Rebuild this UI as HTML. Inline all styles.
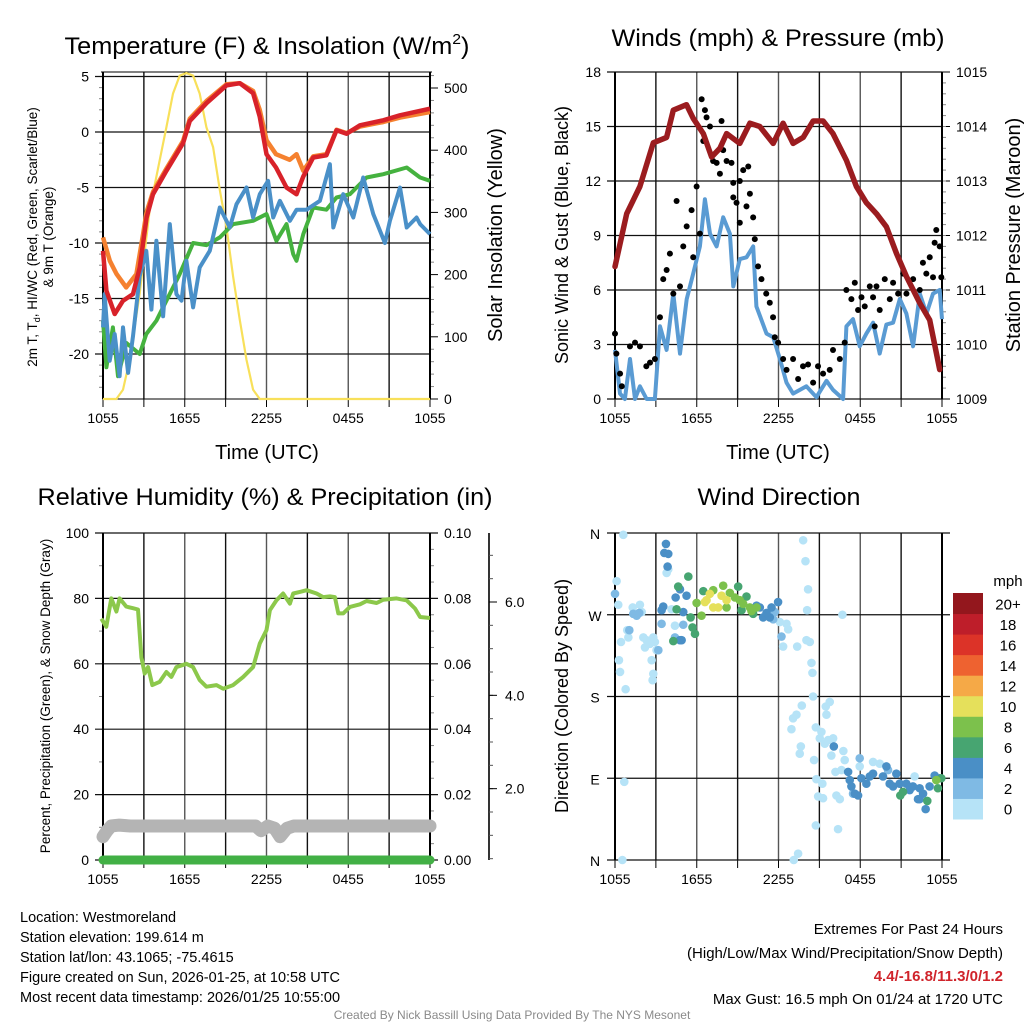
<!DOCTYPE html>
<html><head><meta charset="utf-8"><style>
html,body{margin:0;padding:0;background:#fff}
svg{display:block;font-family:"Liberation Sans",sans-serif}
</style></head><body>
<svg id="fig" width="1024" height="1024" viewBox="0 0 1024 1024" xmlns="http://www.w3.org/2000/svg">
<rect x="0" y="0" width="1024" height="1024" fill="#fff"/>
<g id="layer"></g>
<text x="267" y="54" font-size="24" text-anchor="middle" textLength="405" lengthAdjust="spacingAndGlyphs">Temperature (F) &amp; Insolation (W/m<tspan font-size="15" dy="-10">2</tspan><tspan dy="10">)</tspan></text>
<text x="778" y="46" font-size="24" text-anchor="middle" textLength="333" lengthAdjust="spacingAndGlyphs">Winds (mph) &amp; Pressure (mb)</text>
<text x="265" y="505" font-size="24" text-anchor="middle" textLength="455" lengthAdjust="spacingAndGlyphs">Relative Humidity (%) &amp; Precipitation (in)</text>
<text x="779" y="505" font-size="24" text-anchor="middle" textLength="163" lengthAdjust="spacingAndGlyphs">Wind Direction</text>
<text x="267" y="459" font-size="20" text-anchor="middle">Time (UTC)</text>
<text x="778" y="459" font-size="20" text-anchor="middle">Time (UTC)</text>
<text transform="translate(37,237) rotate(-90)" font-size="13.5" text-anchor="middle">2m T, T<tspan font-size="9" dy="3">d</tspan><tspan dy="-3">, HI/WC (Red, Green, Scarlet/Blue)</tspan></text>
<text transform="translate(53,237) rotate(-90)" font-size="13.5" text-anchor="middle">&amp; 9m T (Orange)</text>
<text transform="translate(502,235) rotate(-90)" font-size="20" text-anchor="middle">Solar Insolation (Yellow)</text>
<text transform="translate(568,235) rotate(-90)" font-size="18" text-anchor="middle">Sonic Wind &amp; Gust (Blue, Black)</text>
<text transform="translate(1020,235) rotate(-90)" font-size="20" text-anchor="middle">Station Pressure (Maroon)</text>
<text transform="translate(50,696) rotate(-90)" font-size="13.5" text-anchor="middle">Percent, Precipitation (Green), &amp; Snow Depth (Gray)</text>
<text transform="translate(568,696) rotate(-90)" font-size="18" text-anchor="middle">Direction (Colored By Speed)</text>
<g font-size="14.5">
<text x="20" y="922">Location: Westmoreland</text>
<text x="20" y="942">Station elevation: 199.614 m</text>
<text x="20" y="962">Station lat/lon: 43.1065; -75.4615</text>
<text x="20" y="982">Figure created on Sun, 2026-01-25, at 10:58 UTC</text>
<text x="20" y="1002">Most recent data timestamp: 2026/01/25 10:55:00</text>
</g>
<g font-size="15" text-anchor="end">
<text x="1003" y="934">Extremes For Past 24 Hours</text>
<text x="1003" y="958">(High/Low/Max Wind/Precipitation/Snow Depth)</text>
<text x="1003" y="981" fill="#d0242b" font-weight="bold">4.4/-16.8/11.3/0/1.2</text>
<text x="1003" y="1004">Max Gust: 16.5 mph On 01/24 at 1720 UTC</text>
</g>
<text x="512" y="1019" font-size="12" fill="#8a8a8a" text-anchor="middle">Created By Nick Bassill Using Data Provided By The NYS Mesonet</text>
</svg>
<script>
// ---------- data ----------
var timeLabels = ["1055","1655","2255","0455","1055"];
var tempTicks = [5,0,-5,-10,-15,-20];
var insolTicks = [0,100,200,300,400,500];
var windTicks = [0,3,6,9,12,15,18];
var presTicks = [1009,1010,1011,1012,1013,1014,1015];
var rhTicks = [0,20,40,60,80,100];
var precipTicks = ["0.00","0.02","0.04","0.06","0.08","0.10"];
var snowTicks = [2,4,6];
var dirLabels = ["N","W","S","E","N"];
var dirTickVals = [360,270,180,90,0];

var redT = [0,0.25,0.86,1.47,2.2,2.7,3.2,3.67,4.65,5.88,6.37,7.6,9.06,10.04,11.02,11.5,12.0,12.7,13.47,14.2,14.7,15.43,16.4,17.14,17.88,18.86,20.57,21.8,24];
var redV = [-10.7,-14.3,-16.4,-15.2,-14.6,-12.2,-7.7,-5.6,-3.5,-1,1,2.6,4.2,4.4,3.5,1.4,-2,-3.2,-5,-5.6,-4,-2.3,-2.1,0.15,-0.15,0.6,1.05,1.5,2.1];
var orangeT = [0,0.5,1.0,1.7,2.45,2.94,3.2,3.67,4.65,5.88,6.37,7.6,9.06,10.04,11.02,11.5,12.0,12.7,13.7,14.2,14.7,15.43,16.4,17.14,17.88,18.86,20.57,21.8,24];
var orangeV = [-9.5,-11.6,-12.8,-14,-12.8,-9.2,-7.2,-5.4,-3.3,-0.8,1.2,2.8,4.3,4.4,3.7,2,-0.75,-2,-2.5,-2,-3.5,-2.2,-2,0.2,-0.1,0.5,0.9,1.3,1.8];
var greenT = [0,0.25,0.73,1.1,1.71,2.69,3.18,3.92,4.65,5.63,6.61,7.59,8.57,9.55,11.02,12.0,12.73,13.47,13.96,14.2,14.7,15.43,16.4,17.14,18.12,19.35,20.57,22.29,23.27,24];
var greenV = [-17,-21.2,-17.6,-22,-19,-20,-18.2,-17,-15.2,-12.8,-10,-10.2,-9.5,-8.3,-8,-7.4,-9.8,-8.3,-11,-11.6,-9.2,-6.8,-7,-5.9,-5.6,-4.1,-3.8,-3.2,-4.1,-4.4];
var blueT = [0,0.12,0.49,0.86,1.22,1.47,1.84,2.2,2.69,3.18,3.55,3.92,4.41,4.9,5.39,5.76,6.12,6.61,7.1,7.84,8.57,9.31,9.8,10.53,11.02,11.51,12.12,12.49,12.98,13.72,14.21,14.94,15.92,16.65,16.9,17.63,18.37,19.1,19.84,20.69,21.06,21.8,22.29,23.02,23.27,24];
var blueV = [-17.6,-14.6,-20.6,-18.2,-22,-17.6,-21.7,-18.4,-13,-10.7,-16,-9.8,-16.6,-8.3,-14.6,-15.2,-11.6,-15.8,-12.2,-10.7,-6.8,-8.6,-6.5,-5,-7.7,-5.6,-4.4,-7.7,-6.2,-8,-7,-7,-6.2,-2.9,-8.6,-5.6,-7.7,-4.1,-7.4,-10,-8,-5,-8.6,-7.7,-8.3,-9.2];
var solarT = [0,0.98,1.47,1.96,2.69,3.43,4.16,4.65,5.14,5.63,6.12,6.61,7.1,7.59,8.08,8.57,9.06,9.55,10.04,10.53,11.02,11.51,24];
var solarV = [0,0,15,63,170,304,384,437,491,520,524,520,491,437,405,336,277,197,127,63,15,0,0];

var presT = [0,0.86,1.83,2.81,3.79,4.28,5.25,5.74,6.48,7.09,7.7,8.19,9.16,9.9,10.63,11.61,12.34,13.07,13.81,14.54,15.27,16.0,16.98,17.72,18.45,19.19,19.92,20.66,21.39,22.37,23.1,23.83];
var presV = [1011.43,1012.4,1012.9,1013.7,1013.8,1014.3,1014.4,1014.15,1013.87,1013.44,1013.6,1013.87,1013.69,1014.06,1014.0,1013.69,1014.06,1013.69,1013.8,1014.1,1014.1,1013.87,1013.38,1012.9,1012.6,1012.4,1012.16,1011.67,1011.25,1010.76,1010.45,1009.54];
var windT = [0,0.37,0.73,1.1,1.47,1.83,2.32,2.93,3.3,3.79,4.28,4.77,5.26,5.74,6.23,6.6,6.97,7.46,7.94,8.43,8.68,9.16,9.65,10.14,10.38,11.12,11.61,12.1,12.59,13.07,14.05,14.78,15.52,16.0,16.74,16.98,17.47,17.96,18.45,18.94,19.43,19.92,20.41,20.9,21.39,21.88,22.37,22.86,23.34,23.83,24];
var windV = [2.7,0.3,0,2.2,0,0.7,0,0,4,2.7,5.8,2.5,5.5,6.9,8.4,11,9.1,8.4,10,9.1,6.2,7.7,7.8,8.4,5.1,3.6,3.4,2.2,0.9,0.3,0.7,0.1,1,0.5,0,4,4.4,2.9,3.6,4.2,2.5,4.1,4.2,5.5,4.7,2.9,5.8,4.7,5.8,6,4.4];
var gustT = [0,0.1,0.37,0.5,1.1,1.47,1.83,2.3,2.57,2.93,3.3,3.54,3.79,4.03,4.28,4.52,4.77,5.01,5.26,5.62,5.74,5.99,6.23,6.36,6.48,6.6,6.72,6.97,7.2,7.46,7.7,7.82,7.94,8.19,8.55,8.68,8.68,8.92,9.16,9.16,9.41,9.65,9.78,9.9,10.14,10.26,10.5,10.75,11.1,11.36,11.6,11.73,11.97,12.34,12.59,13.07,13.44,13.8,14.17,14.54,14.9,15.27,15.76,16,16.5,16.86,16.98,17.35,17.6,17.84,18.09,18.33,18.7,18.94,19.06,19.19,19.43,19.8,20.17,20.41,20.78,21.15,21.39,21.88,22.37,22.6,22.85,23.1,23.34,23.46,23.58,23.83,23.95];
var gustV = [3.6,2.5,1.4,0.7,2.9,3.1,2.9,1.8,2.0,2.2,4.5,6.6,7.1,8.0,5.8,10.9,6.2,8.4,9.5,10.4,7.8,11.7,9.1,16.5,14.2,15.9,15.5,15.0,13.1,13.0,12.4,15.3,13.7,13.1,13.0,11.9,11.1,10.8,9.7,12.0,12.6,10.6,12.8,11.3,10.0,8.8,7.3,6.6,5.8,5.3,4.5,3.4,3.1,2.2,1.6,2.2,1.1,1.8,1.9,0.9,1.8,1.4,1.6,2.7,2.2,3.1,6.0,5.5,6.4,4.9,5.6,5.1,6.2,5.6,4.0,6.2,4.9,6.6,5.5,6.4,5.8,6.9,5.8,6.6,6.0,7.5,6.9,7.8,6.7,8.6,9.3,8.4,6.7];

var rhT = [-0.12,0.24,0.61,0.98,1.22,1.71,2.2,2.57,2.82,3.06,3.31,3.62,4.16,4.65,5.02,5.39,6.12,6.61,7.1,7.59,8.33,8.82,9.55,10.29,11.02,11.51,12.0,12.25,12.73,13.22,13.72,13.96,14.45,14.94,15.68,16.16,16.65,17.02,17.27,17.63,18.12,18.86,19.35,20.08,20.57,21.55,22.29,22.9,23.27,24];
var rhV = [73.8,71.3,80,76,80,77.5,77,76.6,62,57,59,53.5,54.5,57.5,56,59,60,59,55,53,53.5,52.4,53.5,56,59,66.2,70.3,76.4,79.4,81.5,78.4,81.5,82,82.5,81.5,80.4,80.6,80.4,75.4,75.4,77.4,78.2,79.2,78.6,79.6,80,79.4,76.9,74.3,74];
var snowT = [0,0.3,0.6,1.2,2,4,6,8,10,11.2,11.6,12.1,12.6,13.0,13.5,14.0,15,18,21,24];
var snowV = [0.97,1.1,1.2,1.22,1.2,1.2,1.2,1.2,1.2,1.2,1.1,1.2,1.15,0.97,1.15,1.2,1.2,1.2,1.2,1.2];
var precipT = [0,24];
var precipV = [0,0];

var speedBins = ["0","2","4","6","8","10","12","14","16","18","20+"];
var binColors = ["#b6e3f7","#7fbae4","#4a8fc6","#47a571","#7cc14c","#e5e05b","#f5a947","#ee6230","#dc3328","#be1e2a","#93171d"];
var dirT = [
0.61,0.12,0.24,0.44,0.29,0.37,0.78,0.68,0.54,1.30,0.98,0.90,1.83,1.96,2.08,2.32,2.57,2.20,2.81,2.93,2.69,2.81,2.76,3.05,3.79,3.91,4.15,4.40,
13.81,13.98,14.17,14.10,12.10,12.59,12.71,12.34,13.37,14.05,14.30,14.42,14.49,14.54,13.71,13.32,13.07,12.95,13.64,13.56,
14.74,15.15,15.03,15.47,15.76,15.52,15.40,15.64,16.01,15.88,16.76,16.86,14.61,16.18,16.62,14.78,15.22,16.25,16.50,14.91,15.27,14.74,16.37,13.44,13.12,16.69,17.96,18.94,19.43,21.99,
0,1.05,1.34,1.59,1.78,3.18,3.42,4.40,5.01,11.61,11.73,12.22,17.96,17.47,20.04,
3.74,3.62,3.91,3.86,3.54,4.45,4.77,5.25,5.01,4.77,4.89,3.42,10.63,10.87,11.36,11.49,11.97,11.12,10.39,16.06,17.11,17.23,17.35,17.60,17.84,18.08,18.45,18.70,18.94,19.67,19.92,20.16,20.41,20.65,20.89,21.38,21.63,21.87,22.36,22.61,23.09,23.46,22.80,22.36,23.83,22.24,
5.38,4.64,4.52,4.28,5.55,5.69,5.87,6.48,9.04,9.29,9.65,10.14,20.94,21.14,22.92,23.70,23.95,
5.99,6.35,7.21,7.94,8.43,8.80,9.41,9.90,10.02,8.19,9.16,10.39,23.58,
6.72,6.96,7.21,7.58,7.82,8.19,6.60];
var dirV = [
358,307,281,240,220,207,188,86,0,278,245,253,281,273,245,242,238,234,245,240,220,205,198,231,316,320,276,258,
352,329,298,275,262,260,254,235,235,242,240,217,206,180,170,160,156,144,125,117,
146,141,134,169,174,160,128,132,134,115,120,110,110,97,99,89,84,71,67,70,68,38,34,7,0,270,103,108,106,92,
293,253,271,269,272,231,260,245,259,265,273,246,112,73,99,
348,338,337,323,279,289,298,291,273,242,242,275,278,267,267,278,284,272,280,125,97,88,81,73,71,90,84,92,95,92,103,84,81,95,84,84,77,81,79,73,81,93,56,67,90,67,
312,301,276,241,267,256,249,296,301,275,290,271,71,75,65,79,90,
283,269,297,302,294,289,282,278,274,278,286,278,88,
286,293,278,278,291,286,284];
var dirBin = [];
(function(){var counts=[78,15,46,17,13,7];for(var b=0;b<counts.length;b++){for(var k=0;k<counts[b];k++){dirBin.push(b);}}})();

// ---------- helpers ----------
var NS = "http://www.w3.org/2000/svg";
var layer = document.getElementById("layer");
function mk(tag, attrs, name, parent) {
  var el = document.createElementNS(NS, tag);
  for (var k in attrs) el.setAttribute(k, attrs[k]);
  
  
  (parent || layer).appendChild(el);
  return el;
}
function txt(x, y, s, size, anchor, name) {
  var t = mk("text", {x: x, y: y, "font-size": size, "text-anchor": anchor || "middle"}, name);
  t.textContent = s;
  return t;
}
function lin(sx, sy) { return function(v){ return sy[0] + (v - sx[0]) * (sy[1] - sy[0]) / (sx[1] - sx[0]); }; }
function pathD(ts, vs, fx, fy) {
  var d = "";
  for (var i = 0; i < ts.length; i++) d += (i ? "L" : "M") + fx(ts[i]).toFixed(1) + "," + fy(vs[i]).toFixed(1);
  return d;
}
function timeAxis(x0, x1, yb, yt, name) {
  var fx = lin([0, 24], [x0, x1]);
  for (var h = 0; h <= 24; h += 3) {
    var x = fx(h);
    mk("line", {x1: x, y1: yt, x2: x, y2: yb, stroke: (h % 6 === 0) ? "#555" : "#111", "stroke-width": 1.4}, name + "-vgrid");
    mk("line", {x1: x, y1: yb, x2: x, y2: yb + 8, stroke: "#000", "stroke-width": 1}, name + "-xtick");
  }
  for (var i = 0; i < timeLabels.length; i++) txt(fx(i * 6), yb + 24, timeLabels[i], 14, "middle", name + "-xtick-label");
  return fx;
}
function frame(x0, x1, yb, yt, name) {
  mk("line", {x1: x0, y1: yt, x2: x0, y2: yb, stroke: "#000", "stroke-width": 2}, name + "-left-border");
  mk("line", {x1: x1, y1: yt, x2: x1, y2: yb, stroke: "#000", "stroke-width": 2}, name + "-right-border");
}

// ---------- Panel 1: temperature ----------
(function(){
  var x0 = 103, x1 = 430, yb = 399, yt = 72;
  var fy = lin([0, 5], [132, 76.5]);
  var fr = lin([0, 500], [399, 88]);
  var fx = timeAxis(x0, x1, yb, yt, "temp");
  mk("line", {x1: x0 - 2, y1: 72, x2: x1 + 2, y2: 72, stroke: "#000", "stroke-width": 1}, "temp-top-border");
  for (var i = 0; i < tempTicks.length; i++) {
    var y = fy(tempTicks[i]);
    mk("line", {x1: x0 - 8, y1: y, x2: x1, y2: y, stroke: "#111", "stroke-width": 1.2}, "temp-hgrid");
    txt(x0 - 14, y + 5, String(tempTicks[i]), 14, "end", "temp-ytick-label");
  }
  for (var v = -23; v <= 5; v++) { if (v % 5) mk("line", {x1: x0 - 4, y1: fy(v), x2: x0, y2: fy(v), stroke: "#888"}, "temp-minor-tick"); }
  for (var j = 0; j < insolTicks.length; j++) {
    var yy = fr(insolTicks[j]);
    mk("line", {x1: x1, y1: yy, x2: x1 + 8, y2: yy, stroke: "#000"}, "insol-tick");
    txt(x1 + 14, yy + 5, String(insolTicks[j]), 14, "start", "insol-tick-label");
  }
  for (var w = 20; w <= 520; w += 20) { if (w % 100) mk("line", {x1: x1, y1: fr(w), x2: x1 + 4, y2: fr(w), stroke: "#888"}, "insol-minor-tick"); }
  frame(x0, x1, yb, yt, "temp");
  mk("line", {x1: x0, y1: yb, x2: x1, y2: yb, stroke: "#000", "stroke-width": 1}, "temp-bottom-border");
  mk("path", {d: pathD(solarT, solarV, fx, fr), fill: "none", stroke: "#f8e05a", "stroke-width": 2.2}, "solar-insolation-line");
  mk("path", {d: pathD(greenT, greenV, fx, fy), fill: "none", stroke: "#45b23f", "stroke-width": 4, "stroke-linejoin": "round"}, "dewpoint-line");
  mk("path", {d: pathD(blueT, blueV, fx, fy), fill: "none", stroke: "#4a90c8", "stroke-width": 4, "stroke-linejoin": "round"}, "windchill-line");
  mk("path", {d: pathD(orangeT, orangeV, fx, fy), fill: "none", stroke: "#f5812f", "stroke-width": 4.5, "stroke-linejoin": "round"}, "temp-9m-line");
  mk("path", {d: pathD(redT, redV, fx, fy), fill: "none", stroke: "#d8222a", "stroke-width": 4.5, "stroke-linejoin": "round"}, "temp-2m-line");
})();

// ---------- Panel 2: winds ----------
(function(){
  var x0 = 615, x1 = 942, yb = 399, yt = 72;
  var fy = lin([0, 18], [399, 72]);
  var fp = lin([1009, 1015], [399, 72]);
  var fx = timeAxis(x0, x1, yb, yt, "wind");
  for (var i = 0; i < windTicks.length; i++) {
    var y = fy(windTicks[i]);
    mk("line", {x1: x0 - 8, y1: y, x2: x1, y2: y, stroke: "#111", "stroke-width": 1.2}, "wind-hgrid");
    txt(x0 - 14, y + 5, String(windTicks[i]), 14, "end", "wind-ytick-label");
  }
  for (var j = 0; j < presTicks.length; j++) {
    var yy = fp(presTicks[j]);
    mk("line", {x1: x1, y1: yy, x2: x1 + 8, y2: yy, stroke: "#000"}, "pressure-tick");
    txt(x1 + 14, yy + 5, String(presTicks[j]), 14, "start", "pressure-tick-label");
  }
  for (var p = 1009.2; p < 1015; p += 0.2) mk("line", {x1: x1, y1: fp(p), x2: x1 + 4, y2: fp(p), stroke: "#888"}, "pressure-minor-tick");
  frame(x0, x1, yb, yt, "wind");
  mk("path", {d: pathD(windT, windV, fx, fy), fill: "none", stroke: "#5a9bd3", "stroke-width": 4, "stroke-linejoin": "round"}, "sonic-wind-line");
  var g = mk("g", {fill: "#000"}, "gust-points");
  for (var k = 0; k < gustT.length; k++) {
    var c = document.createElementNS(NS, "circle");
    c.setAttribute("cx", fx(gustT[k])); c.setAttribute("cy", fy(gustV[k])); c.setAttribute("r", 3);
    
    
    g.appendChild(c);
  }
  mk("path", {d: pathD(presT, presV, fx, fp), fill: "none", stroke: "#9b1c1f", "stroke-width": 5.5, "stroke-linejoin": "round", "stroke-linecap": "round"}, "pressure-line");
})();

// ---------- Panel 3: humidity ----------
(function(){
  var x0 = 103, x1 = 430, yb = 860, yt = 533;
  var fy = lin([0, 100], [860, 533]);
  var fs = lin([0, 6], [882, 602]);
  var fx = timeAxis(x0, x1, yb, yt, "rh");
  for (var i = 0; i < rhTicks.length; i++) {
    var y = fy(rhTicks[i]);
    mk("line", {x1: x0 - 8, y1: y, x2: x1 + 8, y2: y, stroke: "#111", "stroke-width": 1.2}, "rh-hgrid");
    txt(x0 - 14, y + 5, String(rhTicks[i]), 14, "end", "rh-ytick-label");
    txt(x1 + 14, y + 5, precipTicks[i], 14, "start", "precip-tick-label");
  }
  for (var v = 10; v < 100; v += 20) { mk("line", {x1: x0 - 4, y1: fy(v), x2: x0, y2: fy(v), stroke: "#888"}, "rh-minor-tick"); }
  for (var v2 = 5; v2 < 100; v2 += 5) { if (v2 % 20) mk("line", {x1: x1, y1: fy(v2), x2: x1 + 4, y2: fy(v2), stroke: "#888"}, "precip-minor-tick"); }
  mk("line", {x1: 489, y1: 533, x2: 489, y2: 860, stroke: "#000", "stroke-width": 1.6}, "snow-axis-line");
  for (var s = 0.5; fs(s) > 535; s += 0.5) { if (fs(s) < 860) mk("line", {x1: 489, y1: fs(s), x2: 493, y2: fs(s), stroke: "#555"}, "snow-minor-tick"); }
  for (var j = 0; j < snowTicks.length; j++) {
    var yy = fs(snowTicks[j]);
    mk("line", {x1: 489, y1: yy, x2: 497, y2: yy, stroke: "#000"}, "snow-tick");
    txt(505, yy + 5, snowTicks[j].toFixed(1), 14, "start", "snow-tick-label");
  }
  frame(x0, x1, yb, yt, "rh");
  mk("path", {d: pathD(snowT, snowV, fx, fs), fill: "none", stroke: "#b4b4b4", "stroke-width": 13, "stroke-linejoin": "round", "stroke-linecap": "round"}, "snow-depth-line");
  mk("path", {d: pathD(precipT, precipV, fx, lin([0, 0.1], [860, 533])), fill: "none", stroke: "#42b045", "stroke-width": 9, "stroke-linecap": "round"}, "precipitation-line");
  mk("path", {d: pathD(rhT, rhV, fx, fy), fill: "none", stroke: "#8cc84b", "stroke-width": 4, "stroke-linejoin": "round"}, "relative-humidity-line");
})();

// ---------- Panel 4: wind direction ----------
(function(){
  var x0 = 615, x1 = 942, yb = 860, yt = 533;
  var fy = lin([0, 360], [860, 533]);
  var fx = timeAxis(x0, x1, yb, yt, "dir");
  for (var i = 0; i < dirLabels.length; i++) {
    var y = fy(dirTickVals[i]);
    mk("line", {x1: x0 - 8, y1: y, x2: x1 + 8, y2: y, stroke: "#111", "stroke-width": 1.2}, "dir-hgrid");
    txt(x0 - 20, y + 6, dirLabels[i], 14, "middle", "dir-ytick-label");
  }
  frame(x0, x1, yb, yt, "dir");
  var g = mk("g", {}, "direction-points");
  for (var k = 0; k < dirT.length; k++) {
    var c = document.createElementNS(NS, "circle");
    c.setAttribute("cx", fx(dirT[k])); c.setAttribute("cy", fy(dirV[k])); c.setAttribute("r", 4.3);
    c.setAttribute("fill", binColors[dirBin[k]]);
    
    
    g.appendChild(c);
  }
  // colorbar
  var cb0 = 593, cb1 = 819, h = (cb1 - cb0) / speedBins.length;
  for (var b = 0; b < speedBins.length; b++) {
    var yb2 = cb1 - (b + 1) * h;
    mk("rect", {x: 953, y: yb2, width: 30, height: h + 0.5, fill: binColors[b]}, "colorbar-swatch");
    txt(1008, yb2 + h / 2 + 6, speedBins[b], 15, "middle", "colorbar-label");
  }
  txt(1008, 586, "mph", 15, "middle", "colorbar-title");
})();
</script>
</body></html>
